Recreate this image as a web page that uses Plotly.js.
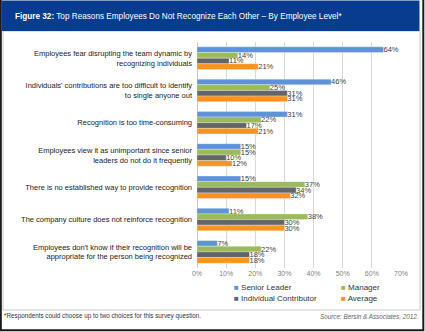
<!DOCTYPE html>
<html>
<head>
<meta charset="utf-8">
<script src="https://cdn.plot.ly/plotly-3.0.1.min.js"></script>
<style>html,body{margin:0;padding:0;background:#fff;}#chart{width:425px;height:332px;}</style>
</head>
<body>
<div id="chart"></div>
<script>
// ---- data ----
const categories = [
  "Employees fear disrupting the team dynamic by<br>recognizing individuals",
  "Individuals' contributions are too difficult to identify<br>to single anyone out",
  "Recognition is too time-consuming",
  "Employees view it as unimportant since senior<br>leaders do not do it frequently",
  "There is no established way to provide recognition",
  "The company culture does not reinforce recognition",
  "Employees don't know if their recognition will be<br>appropriate for the person being recognized"
];
const seriesNames = ["Senior Leader", "Manager", "Individual Contributor", "Average"];
const seniorLeader = [64, 46, 31, 15, 15, 11, 7];
const manager = [14, 25, 22, 15, 37, 38, 22];
const individualContributor = [11, 31, 17, 10, 34, 30, 18];
const average = [21, 31, 21, 12, 32, 30, 18];
const xTickVals = [0, 10, 20, 30, 40, 50, 60, 70];
const titleBold = "Figure 32:";
const titleRest = "Top Reasons Employees Do Not Recognize Each Other \u2013 By Employee Level*";
const footnote = "*Respondents could choose up to two choices for this survey question.";
const source = "Source: Bersin &amp; Associates, 2012.";

// ---- styling ----
const colors = ["#5F93D9", "#9BBB59", "#62666A", "#F7931E"];
const W = 425, H = 332;
const M = {l: 197, r: 24, t: 42, b: 64};
const PW = W - M.l - M.r, PH = H - M.t - M.b;
const px = x => (x - M.l) / PW;
const py = y => (H - M.b - y) / PH;

const values = [seniorLeader, manager, individualContributor, average];
const traces = values.map((v, i) => ({
  type: "bar",
  orientation: "h",
  name: seriesNames[i],
  y: categories,
  x: v,
  marker: {color: colors[i], line: {color: "rgba(255,255,255,0.6)", width: 0.5}},
  text: v.map(d => d + "%"),
  textposition: "outside",
  constraintext: "none",
  cliponaxis: false,
  textfont: {family: "Liberation Sans, Arial, sans-serif", size: 7.5, color: "#404040"},
  hoverinfo: "x+name"
}));

const shapes = [
  // panel border
  {type: "rect", xref: "paper", yref: "paper", x0: px(3), x1: px(420), y0: py(31), y1: py(310),
   line: {color: "#C8C8C8", width: 1}, fillcolor: "rgba(0,0,0,0)", layer: "below"},
  // header
  {type: "rect", xref: "paper", yref: "paper", x0: px(2), x1: px(419.5), y0: py(0.5), y1: py(31),
   line: {width: 0}, fillcolor: "#083C8F"},
  // outer frame
  {type: "rect", xref: "paper", yref: "paper", x0: px(0.8), x1: px(423.3), y0: py(-2), y1: py(330.3),
   line: {color: "#1A1A1A", width: 2}, fillcolor: "rgba(0,0,0,0)"}
];

const legendPos = [[232, 287], [339, 287], [232, 298], [339, 298]];
const annotations = [
  {xref: "paper", yref: "paper", x: px(13), y: py(16), xanchor: "left", yanchor: "middle", showarrow: false,
   text: "<b>" + titleBold + "</b> " + titleRest,
   font: {family: "Liberation Sans, Arial, sans-serif", size: 8.2, color: "#FFFFFF"}},
  {xref: "paper", yref: "paper", x: px(2), y: py(316), xanchor: "left", yanchor: "middle", showarrow: false,
   text: footnote, font: {family: "Liberation Sans, Arial, sans-serif", size: 6.3, color: "#333333"}},
  {xref: "paper", yref: "paper", x: px(420), y: py(316), xanchor: "right", yanchor: "middle", showarrow: false,
   text: "<i>" + source + "</i>", font: {family: "Liberation Sans, Arial, sans-serif", size: 6.3, color: "#666666"}}
];
seriesNames.forEach((n, i) => {
  annotations.push({xref: "paper", yref: "paper", x: px(legendPos[i][0]), y: py(legendPos[i][1]),
    xanchor: "left", yanchor: "middle", showarrow: false,
    text: '<span style="color:' + colors[i] + '">\u25A0</span> ' + n,
    font: {family: "Liberation Sans, Arial, sans-serif", size: 8, color: "#333333"}});
});

const layout = {
  width: W, height: H,
  margin: M,
  paper_bgcolor: "#FFFFFF",
  plot_bgcolor: "#FFFFFF",
  barmode: "group",
  bargap: 0.3,
  bargroupgap: 0,
  showlegend: false,
  xaxis: {
    range: [0, 70], tickvals: xTickVals, ticktext: xTickVals.map(v => v + "%"),
    showgrid: true, gridcolor: "#D9D9D9", gridwidth: 1,
    zeroline: true, zerolinecolor: "#C8C8C8", zerolinewidth: 1,
    showline: false, ticks: "",
    tickfont: {family: "Liberation Sans, Arial, sans-serif", size: 7, color: "#7F7F7F"},
    fixedrange: true
  },
  yaxis: {
    autorange: "reversed", showgrid: false, zeroline: false, showline: false, ticks: "",
    ticklabelstandoff: 4,
    tickfont: {family: "Liberation Sans, Arial, sans-serif", size: 7.5, color: "#222222"},
    fixedrange: true
  },
  shapes: shapes,
  annotations: annotations
};

Plotly.newPlot("chart", traces, layout, {displayModeBar: false, staticPlot: true});
</script>
</body>
</html>
